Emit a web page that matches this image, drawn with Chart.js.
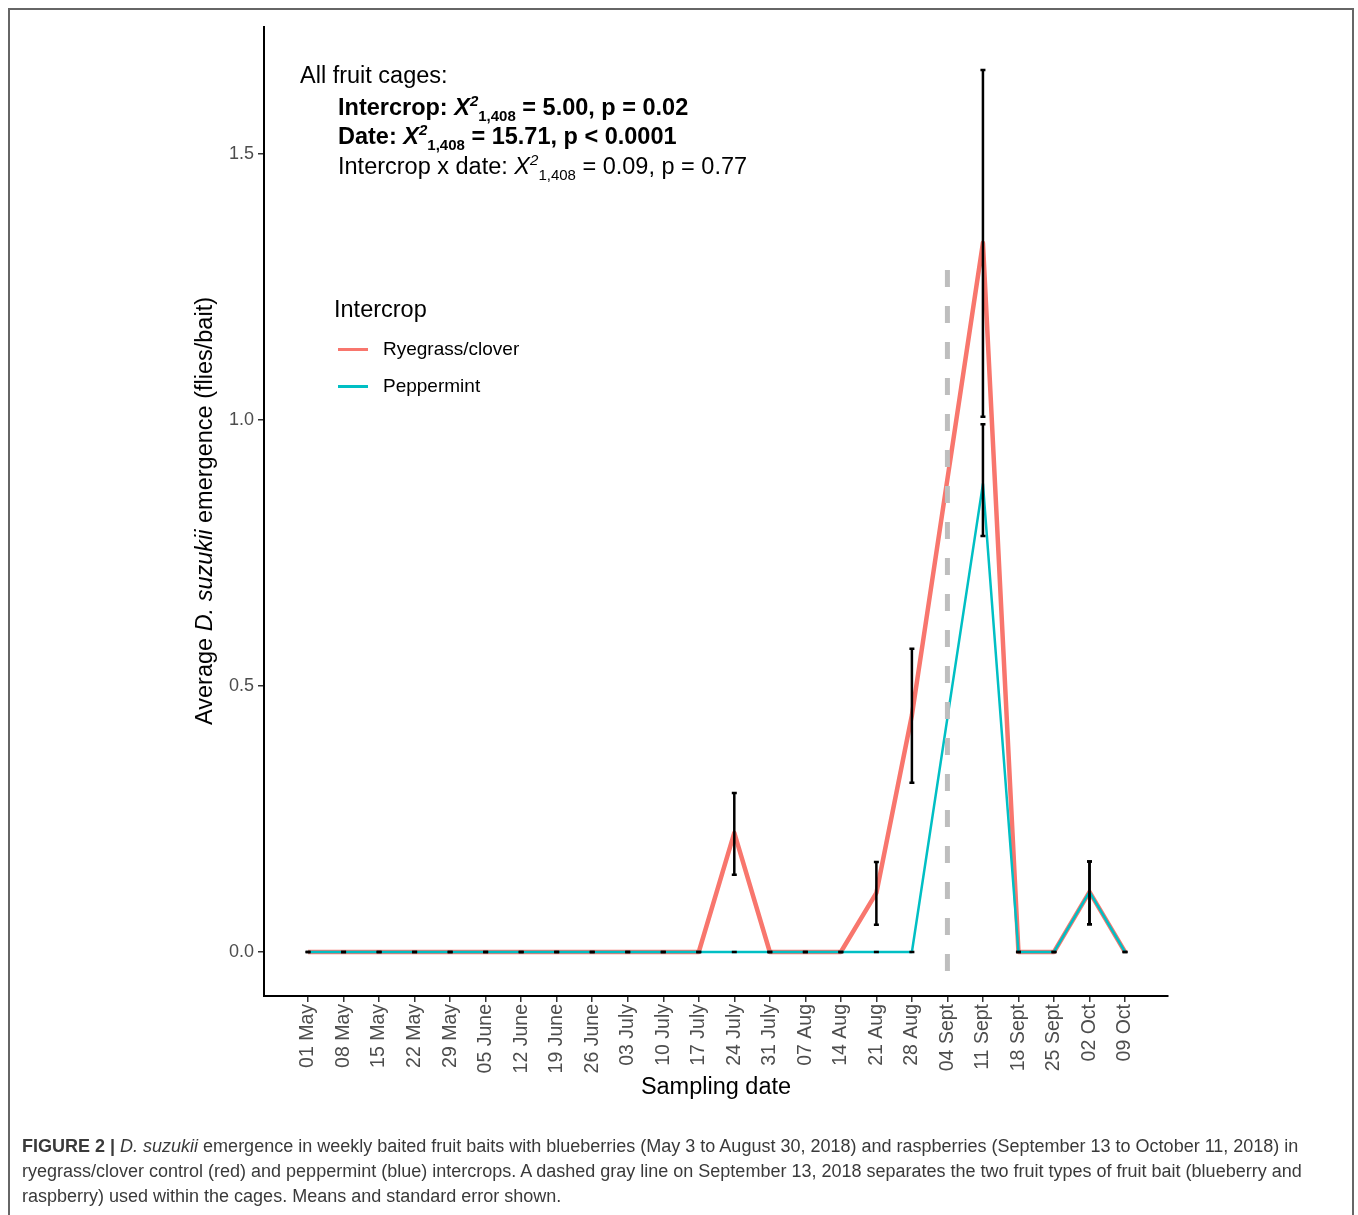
<!DOCTYPE html>
<html>
<head>
<meta charset="utf-8">
<script src="https://cdn.jsdelivr.net/npm/chart.js@4/dist/chart.umd.min.js"></script>
<style>
  body { margin: 0; background: #fff; font-family: "Liberation Sans", Arial, sans-serif; }
  #wrap { position: relative; width: 1358px; height: 1215px; overflow: hidden; background: #fff; }
  #frame { position: absolute; left: 8px; top: 8px; width: 1346px; height: 1230px; border: 2px solid #666; box-sizing: border-box; }
  #chart { position: absolute; left: 0; top: 0; }
  .txt { position: absolute; white-space: nowrap; color: #000; font-size: 23.5px; line-height: 30px; }
  .txt sup, .txt sub { font-size: 15px; line-height: 0; }
  .txt sup { vertical-align: 9px; }
  .txt sub { vertical-align: -6px; }
  .bold { font-weight: bold; }
  #legend { position: absolute; left: 334px; top: 294px; }
  .leg-item { position: absolute; white-space: nowrap; font-size: 19px; line-height: 24px; color: #000; }
  .leg-line { position: absolute; width: 30px; height: 2.5px; }
  #ytitle { position: absolute; left: 204px; top: 511px; transform: translate(-50%, -50%) rotate(-90deg); white-space: nowrap; font-size: 23.5px; line-height: 30px; }
  #xtitle { position: absolute; left: 716px; top: 1071px; transform: translateX(-50%); white-space: nowrap; font-size: 23.5px; line-height: 30px; }
  #caption { position: absolute; left: 22px; top: 1134px; font-size: 18px; line-height: 25px; color: #3a3a3a; white-space: nowrap; }
</style>
</head>
<body>
<div id="wrap">
  <div id="frame"></div>
  <canvas id="chart" width="1358" height="1215"></canvas>

  <div class="txt" style="left:300px; top:60px;">All fruit cages:</div>
  <div class="txt bold" style="left:338px; top:92px;">Intercrop: <i>X</i><sup><i>2</i></sup><sub>1,408</sub> = 5.00, p = 0.02</div>
  <div class="txt bold" style="left:338px; top:121px;">Date: <i>X</i><sup><i>2</i></sup><sub>1,408</sub> = 15.71, p &lt; 0.0001</div>
  <div class="txt" style="left:338px; top:151px;">Intercrop x date: <i>X</i><sup><i>2</i></sup><sub>1,408</sub> = 0.09, p = 0.77</div>

  <div id="legend"></div>

  <div id="ytitle">Average <i>D. suzukii</i> emergence (flies/bait)</div>
  <div id="xtitle">Sampling date</div>

  <div id="caption"><b>FIGURE 2 |</b> <i>D. suzukii</i> emergence in weekly baited fruit baits with blueberries (May 3 to August 30, 2018) and raspberries (September 13 to October 11, 2018) in<br>ryegrass/clover control (red) and peppermint (blue) intercrops. A dashed gray line on September 13, 2018 separates the two fruit types of fruit bait (blueberry and<br>raspberry) used within the cages. Means and standard error shown.</div>
</div>

<script>
var dates = ["01 May", "08 May", "15 May", "22 May", "29 May", "05 June", "12 June", "19 June",
    "26 June", "03 July", "10 July", "17 July", "24 July", "31 July", "07 Aug", "14 Aug",
    "21 Aug", "28 Aug", "04 Sept", "11 Sept", "18 Sept", "25 Sept", "02 Oct", "09 Oct"];

var seriesNames = ["Ryegrass/clover", "Peppermint"];
var seriesColors = ["#F8766D", "#00BFC4"];

// means, no sample on 04 Sept (fruit switch)
var ryegrass = [0, 0, 0, 0, 0, 0, 0, 0, 0, 0, 0, 0, 0.224, 0, 0, 0, 0.111, 0.445, null, 1.333, 0, 0, 0.113, 0];
var ryeLow   = [0, 0, 0, 0, 0, 0, 0, 0, 0, 0, 0, 0, 0.145, 0, 0, 0, 0.051, 0.318, null, 1.006, 0, 0, 0.052, 0];
var ryeHigh  = [0, 0, 0, 0, 0, 0, 0, 0, 0, 0, 0, 0, 0.299, 0, 0, 0, 0.169, 0.570, null, 1.658, 0, 0, 0.170, 0];

var peppermint = [0, 0, 0, 0, 0, 0, 0, 0, 0, 0, 0, 0, 0, 0, 0, 0, 0, 0, null, 0.880, 0, 0, 0.113, 0];
var pepLow     = [0, 0, 0, 0, 0, 0, 0, 0, 0, 0, 0, 0, 0, 0, 0, 0, 0, 0, null, 0.782, 0, 0, 0.052, 0];
var pepHigh    = [0, 0, 0, 0, 0, 0, 0, 0, 0, 0, 0, 0, 0, 0, 0, 0, 0, 0, null, 0.992, 0, 0, 0.170, 0];

var yTicks = [0, 0.5, 1.0, 1.5];

// dashed separator between blueberry and raspberry baits
var sepIndex = 18;
var sepFrom = -0.043;
var sepTo = 1.282;

function toPoints(values) {
    return values.map(function(v, i) { return {x: i, y: v}; });
}

var errorBars = [
    {low: ryeLow, high: ryeHigh},
    {low: pepLow, high: pepHigh}
];

var overlay = {
    id: "overlay",
    afterDatasetsDraw: function(chart) {
        var ctx = chart.ctx;
        var x = chart.scales.x;
        var y = chart.scales.y;
        ctx.save();

        // separator line
        ctx.strokeStyle = "#BEBEBE";
        ctx.lineWidth = 5;
        ctx.setLineDash([17, 19]);
        ctx.beginPath();
        ctx.moveTo(x.getPixelForValue(sepIndex), y.getPixelForValue(sepTo));
        ctx.lineTo(x.getPixelForValue(sepIndex), y.getPixelForValue(sepFrom));
        ctx.stroke();
        ctx.setLineDash([]);

        // error bars
        ctx.strokeStyle = "#000";
        ctx.lineWidth = 2.5;
        for (var s = 0; s < errorBars.length; s++) {
            var lo = errorBars[s].low;
            var hi = errorBars[s].high;
            for (var i = 0; i < lo.length; i++) {
                if (lo[i] === null) continue;
                var px = x.getPixelForValue(i);
                var y1 = y.getPixelForValue(lo[i]);
                var y2 = y.getPixelForValue(hi[i]);
                ctx.beginPath();
                ctx.moveTo(px, y1);
                ctx.lineTo(px, y2);
                ctx.moveTo(px - 2.5, y1);
                ctx.lineTo(px + 2.5, y1);
                ctx.moveTo(px - 2.5, y2);
                ctx.lineTo(px + 2.5, y2);
                ctx.stroke();
            }
        }
        ctx.restore();
    }
};

new Chart(document.getElementById("chart").getContext("2d"), {
    type: "line",
    data: {
        datasets: [{
            label: seriesNames[0],
            data: toPoints(ryegrass),
            borderColor: seriesColors[0],
            borderWidth: 4.5,
            order: 2
        }, {
            label: seriesNames[1],
            data: toPoints(peppermint),
            borderColor: seriesColors[1],
            borderWidth: 2.5,
            order: 1
        }]
    },
    options: {
        responsive: false,
        animation: false,
        spanGaps: true,
        elements: {
            point: {radius: 0},
            line: {tension: 0, borderJoinStyle: "round", fill: false}
        },
        layout: {padding: {left: 0, top: 27, right: 190, bottom: 0}},
        plugins: {legend: {display: false}, tooltip: {enabled: false}},
        scales: {
            x: {
                type: "linear",
                min: -1.24,
                max: 24.21,
                afterBuildTicks: function(s) {
                    s.ticks = dates.map(function(d, i) { return {value: i}; });
                },
                afterFit: function(s) { s.height = 219; },
                ticks: {
                    autoSkip: false,
                    minRotation: 90,
                    maxRotation: 90,
                    padding: 2,
                    color: "#4d4d4d",
                    font: {family: "'Liberation Sans', Arial, sans-serif", size: 19.5},
                    callback: function(v) { return dates[v]; }
                },
                grid: {drawOnChartArea: false, tickLength: 6, color: "#333", lineWidth: 1.5},
                border: {display: true, color: "#000", width: 2}
            },
            y: {
                type: "linear",
                min: -0.0827,
                max: 1.7387,
                afterBuildTicks: function(s) {
                    s.ticks = yTicks.map(function(v) { return {value: v}; });
                },
                afterFit: function(s) { s.width = 264; },
                ticks: {
                    padding: 4,
                    color: "#4d4d4d",
                    font: {family: "'Liberation Sans', Arial, sans-serif", size: 18},
                    callback: function(v) { return v.toFixed(1); }
                },
                grid: {drawOnChartArea: false, tickLength: 6, color: "#333", lineWidth: 1.5},
                border: {display: true, color: "#000", width: 2}
            }
        }
    },
    plugins: [overlay]
});

// legend
var legend = document.getElementById("legend");
var html = '<div class="leg-item" style="left:0; top:0; font-size:23.5px; line-height:30px;">Intercrop</div>';
for (var i = 0; i < seriesNames.length; i++) {
    var cy = 55 + i * 37;
    html += '<div class="leg-line" style="left:4px; top:' + (cy - 1) + 'px; background:' + seriesColors[i] + ';"></div>';
    html += '<div class="leg-item" style="left:49px; top:' + (cy - 12) + 'px;">' + seriesNames[i] + '</div>';
}
legend.innerHTML = html;
</script>
</body>
</html>
